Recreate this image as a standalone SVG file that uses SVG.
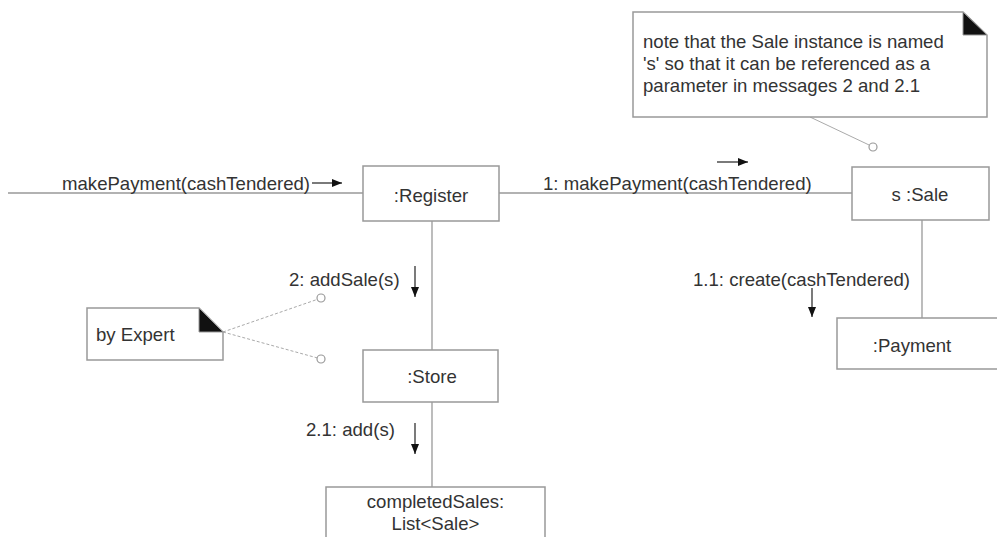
<svg xmlns="http://www.w3.org/2000/svg" width="997" height="537" viewBox="0 0 997 537">
<defs>
<marker id="ah" viewBox="0 0 10 8" refX="10" refY="4" markerWidth="10" markerHeight="8" markerUnits="userSpaceOnUse" orient="auto">
<path d="M0,0 L10,4 L0,8 Z" fill="#111"/>
</marker>
</defs>
<style>
.box{fill:#fff;stroke:#999;stroke-width:1.5}
.lnk{fill:none;stroke:#999;stroke-width:1.3}
.anchor{fill:none;stroke:#aaa;stroke-width:1}
.dot{fill:#fff;stroke:#999;stroke-width:1.2}
.msg{fill:none;stroke:#222;stroke-width:1.2}
.t{font-family:"Liberation Sans",Arial,sans-serif;font-size:18.6px;fill:#333}
.c{text-anchor:middle}
.ear{fill:#111;stroke:#999;stroke-width:1}
</style>
<rect width="997" height="537" fill="#fff"/>
<g id="connectors">
<line class="lnk" x1="8" y1="193" x2="363" y2="193"/>
<line class="lnk" x1="499" y1="193" x2="852" y2="193"/>
<line class="lnk" x1="432" y1="221" x2="432" y2="350"/>
<line class="lnk" x1="432" y1="402" x2="432" y2="487"/>
<line class="lnk" x1="922" y1="220" x2="922" y2="318"/>
<line class="anchor" x1="810" y1="117" x2="869.5" y2="145.2"/>
<line class="anchor" stroke-dasharray="3,2" x1="223" y1="332" x2="317.3" y2="299.4"/>
<line class="anchor" stroke-dasharray="3,2" x1="223" y1="332" x2="317.2" y2="357.9"/>
<circle class="dot" cx="873" cy="147" r="4"/>
<circle class="dot" cx="321" cy="298" r="4"/>
<circle class="dot" cx="321" cy="359" r="4"/>
<line class="msg" x1="312" y1="183" x2="342" y2="183" marker-end="url(#ah)"/>
<line class="msg" x1="717" y1="162" x2="748" y2="162" marker-end="url(#ah)"/>
<line class="msg" x1="415" y1="266" x2="415" y2="297" marker-end="url(#ah)"/>
<line class="msg" x1="812" y1="288" x2="812" y2="317" marker-end="url(#ah)"/>
<line class="msg" x1="415" y1="423" x2="415" y2="454" marker-end="url(#ah)"/>
<text class="t" x="62" y="190">makePayment(cashTendered)</text>
<text class="t" x="543" y="190">1: makePayment(cashTendered)</text>
<text class="t" x="289" y="286">2: addSale(s)</text>
<text class="t" x="693" y="286">1.1: create(cashTendered)</text>
<text class="t" x="306" y="436">2.1: add(s)</text>
</g>
<g id="register">
<rect class="box" x="363" y="166" width="136" height="55"/>
<text class="t c" x="431" y="202">:Register</text>
</g>
<g id="sale">
<rect class="box" x="852" y="167" width="137" height="53"/>
<text class="t c" x="920" y="201">s :Sale</text>
</g>
<g id="store">
<rect class="box" x="363" y="350" width="135" height="52"/>
<text class="t c" x="432" y="383">:Store</text>
</g>
<g id="payment">
<rect class="box" x="837" y="318" width="165" height="51"/>
<text class="t c" x="912" y="352">:Payment</text>
</g>
<g id="completedSales">
<rect class="box" x="326" y="487" width="219" height="60"/>
<text class="t c" x="435.5" y="508">completedSales:</text>
<text class="t c" x="435.5" y="530">List&lt;Sale&gt;</text>
</g>
<g id="note-sale">
<path class="box" d="M633,12 L963,12 L987,35 L987,117 L633,117 Z"/>
<path class="ear" d="M963,12 L987,35 L963,35 Z"/>
<text class="t" x="643" y="48">note that the Sale instance is named</text>
<text class="t" x="643" y="70">'s' so that it can be referenced as a</text>
<text class="t" x="643" y="92">parameter in messages 2 and 2.1</text>
</g>
<g id="note-expert">
<path class="box" d="M87,308 L199,308 L223,332 L223,360 L87,360 Z"/>
<path class="ear" d="M199,308 L223,332 L199,332 Z"/>
<text class="t" x="96" y="341">by Expert</text>
</g>
</svg>
